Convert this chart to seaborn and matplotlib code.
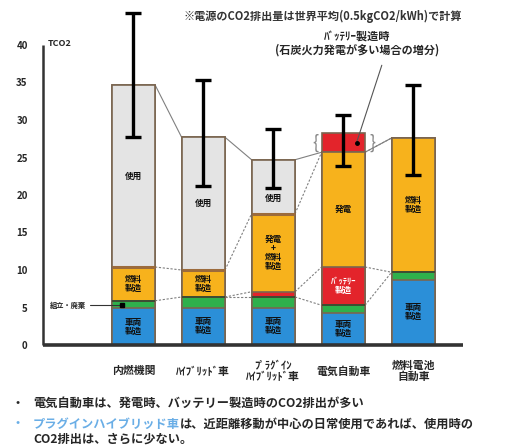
import numpy as np
import matplotlib
matplotlib.use("Agg")
import matplotlib.pyplot as plt
import seaborn as sns

# ---- data ----
categories = ["内燃機関", "ﾊｲﾌﾞﾘｯﾄﾞ車", "ﾌﾟﾗｸﾞｲﾝ\nﾊｲﾌﾞﾘｯﾄﾞ車", "電気自動車", "燃料電池\n自動車"]
vehicle_mfg = [4.9, 5.0, 5.0, 4.3, 8.7]
assembly = [1.0, 1.4, 1.4, 1.0, 1.0]
battery_mfg = [0.0, 0.0, 0.7, 5.1, 0.0]
fuel_power = [4.5, 3.6, 10.4, 15.3, 17.9]
usage = [24.3, 17.7, 7.2, 0.0, 0.0]
coal_extra = [0.0, 0.0, 0.0, 2.6, 0.0]
err_low = [27.7, 21.2, 20.9, 23.9, 22.7]
err_high = [44.3, 35.3, 28.8, 30.7, 34.7]
yticks = [0, 5, 10, 15, 20, 25, 30, 35, 40]

blue_labels = ["車両\n製造"] * 5
orange_labels = ["燃料\n製造", "燃料\n製造", "発電\n+\n燃料\n製造", "発電", "燃料\n製造"]
gray_labels = ["使用", "使用", "使用", "", ""]
battery_labels = ["", "", "", "ﾊﾞｯﾃﾘｰ\n製造", ""]

sns.set_theme(style="white")
plt.rcParams['font.family'] = ['Noto Sans CJK JP', 'DejaVu Sans']

C_BLUE = "#2b8fd8"
C_GREEN = "#2fb04c"
C_RED = "#e3242b"
C_ORANGE = "#f7b21c"
C_GRAY = "#e4e4e4"
C_EDGE = "#7a6550"
C_AX = "#333333"

fig = plt.figure(figsize=(5.14, 4.46), dpi=100)
ax = fig.add_axes([43/514, 101/446, 420/514, 345/446])

layers = [vehicle_mfg, assembly, battery_mfg, fuel_power, usage, coal_extra]
colors = [C_BLUE, C_GREEN, C_RED, C_ORANGE, C_GRAY, C_RED]
cum = np.cumsum(np.array(layers, dtype=float), axis=0)

W = 0.62
for i in range(len(layers) - 1, -1, -1):
    sns.barplot(x=categories, y=cum[i], color=colors[i], width=W,
                edgecolor=C_EDGE, linewidth=1.2, saturation=1, ax=ax, zorder=2)

x = np.arange(len(categories))
# darker boundary strips
for i in range(len(x)):
    if usage[i] > 0:
        ax.hlines(cum[3][i], x[i] - W/2, x[i] + W/2, color="#9c6b3c", lw=2.2, zorder=3)
    ax.hlines(cum[1][i], x[i] - W/2, x[i] + W/2, color="#3a4a30", lw=1.3, zorder=3)

# connectors between bars
base_total = cum[4]
bounds = [(cum[1], (0, (2, 1.5))), (cum[3], (0, (2, 1.5))), (base_total, "-")]
for b, ls in bounds:
    for i in range(len(x) - 1):
        ax.plot([x[i] + W/2, x[i+1] - W/2], [b[i], b[i+1]], color="#808080",
                lw=0.8, ls=ls, zorder=1)
for i in range(len(x) - 1):
    if battery_mfg[i] > 0 or battery_mfg[i+1] > 0:
        ax.plot([x[i] + W/2, x[i+1] - W/2], [cum[2][i], cum[2][i+1]], color="#808080",
                lw=0.8, ls=(0, (2, 1.5)), zorder=1)

# error bars
totals = cum[5]
yerr = [totals - np.array(err_low), np.array(err_high) - totals]
ax.errorbar(x, totals, yerr=yerr, fmt="none", ecolor="black", elinewidth=2.4,
            capsize=5.5, capthick=2.4, zorder=5, clip_on=False)

# segment labels
lab_kw = dict(ha="center", va="center", fontsize=6.2, fontweight="bold", zorder=6,
              linespacing=1.0)
for i in range(len(x)):
    ax.text(x[i], vehicle_mfg[i] / 2, blue_labels[i], color="#111111", **lab_kw)
    ax.text(x[i], (cum[2][i] + cum[3][i]) / 2, orange_labels[i], color="#111111", **lab_kw)
    if gray_labels[i]:
        gy = min((cum[3][i] + cum[4][i]) / 2, err_low[i] - 1.3)
        ax.text(x[i], gy, gray_labels[i], color="#111111", **lab_kw)
    if battery_labels[i]:
        ax.text(x[i], (cum[1][i] + cum[2][i]) / 2, battery_labels[i], color="white", **lab_kw)

# axes styling
ax.set_ylim(0, 46)
ax.set_xlim(-1.29, 4.71)
ax.set_yticks(yticks)
ax.set_yticklabels([str(t) for t in yticks], fontsize=7, fontweight="bold")
ax.tick_params(axis="y", length=0, pad=11)
ax.tick_params(axis="x", length=0, pad=19)
for lbl in ax.get_xticklabels():
    lbl.set_fontsize(7.8)
    lbl.set_fontweight("bold")
    lbl.set_va("center")
    lbl.set_linespacing(1.1)
for s in ["top", "right", "left", "bottom"]:
    ax.spines[s].set_visible(False)
# axis lines
ax.plot([0, 0], [0, 40], transform=ax.get_yaxis_transform(), color=C_AX, lw=1.8,
        clip_on=False, zorder=10, solid_capstyle="butt")
ax.plot([0, 1], [0, 0], transform=ax.transAxes, color=C_AX, lw=2.6,
        clip_on=False, zorder=10, solid_capstyle="butt")
ax.set_xlabel("")
ax.set_ylabel("")

ax.text(0.012, 40.2, "TCO2", fontsize=6.5, fontweight="bold", va="center", ha="left",
        transform=ax.get_yaxis_transform())

# assembly annotation
ax.text(-1.19, 5.3, "組立・廃棄", fontsize=5.2, fontweight="bold", va="center", ha="left")
ax.plot([-0.62, -0.16], [5.3, 5.3], color="#333333", lw=0.8, zorder=6)
ax.plot([-0.16], [5.3], marker="s", color="black", ms=3.5, zorder=7)

# battery coal annotation
ax.text(3.2, 40.2, "ﾊﾞｯﾃﾘｰ製造時\n(石炭火力発電が多い場合の増分)", fontsize=8,
        fontweight="bold", ha="center", va="center", linespacing=1.1)
ax.plot([3.19, 3.55], [27.0, 37.3], color="#555555", lw=0.8, zorder=7)
ax.plot([3.19], [27.0], marker="o", color="black", ms=2.5, zorder=8)
ax.text(2.6, 27.0, "{", fontsize=13, color="#888888", ha="center", va="center")
ax.text(3.42, 27.0, "}", fontsize=13, color="#888888", ha="center", va="center")

# top note
fig.text(323/514, 1 - 16/446, "※電源のCO2排出量は世界平均(0.5kgCO2/kWh)で計算",
         fontsize=8, fontweight="bold", ha="center", va="center", color="#333333")

# bottom notes
FS = 8.8
fig.text(12/514, 1 - 403/446, "・", fontsize=FS, fontweight="bold", va="center")
fig.text(33/514, 1 - 403/446, "電気自動車は、発電時、バッテリー製造時のCO2排出が多い",
         fontsize=FS, fontweight="bold", va="center")
fig.text(12/514, 1 - 424/446, "・", fontsize=FS, fontweight="bold", va="center", color="#6aaee6")
blue_t = fig.text(33/514, 1 - 424/446, "プラグインハイブリッド車", fontsize=FS, fontweight="bold",
                  va="center", color="#6aaee6")
ax.annotate("は、近距離移動が中心の日常使用であれば、使用時の", xy=(1, 0.5), xycoords=blue_t,
            fontsize=FS, fontweight="bold", va="center", ha="left", annotation_clip=False)
fig.text(33/514, 1 - 439/446, "CO2排出は、さらに少ない。", fontsize=FS, fontweight="bold",
         va="center")

fig.savefig("out.png", dpi=100)
